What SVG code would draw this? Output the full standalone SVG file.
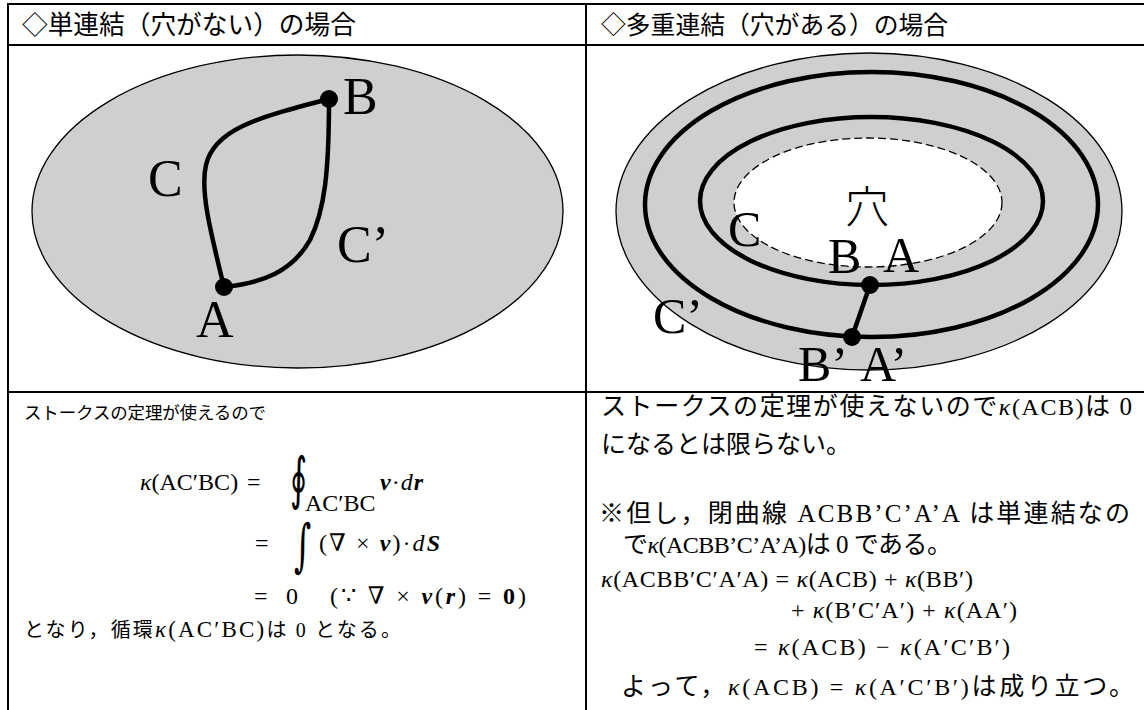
<svg xmlns="http://www.w3.org/2000/svg" width="1144" height="710" viewBox="0 0 1144 710">
<style>
.grid{stroke:#000;stroke-width:2;fill:none}
.region{fill:#d0cfd0;stroke:#000;stroke-width:1.3}
.thick{fill:none;stroke:#000;stroke-width:4.5}
.dot{fill:#000}
.lbl{font-family:"Liberation Serif","Times New Roman",serif;font-size:52px;fill:#000}
.lblR{font-family:"Liberation Serif","Times New Roman",serif;font-size:50px;fill:#000}
.hdr{font-family:"Noto Sans CJK JP",sans-serif;fill:#000}
.jp{font-family:"Liberation Serif","Noto Sans CJK JP",serif;fill:#000}
.m{font-family:"Liberation Serif","DejaVu Serif",serif;font-size:24px;fill:#000}
.it{font-style:italic}
.bi{font-style:italic;font-weight:bold}
.int{font-family:"DejaVu Serif",serif;fill:#000}
</style>

<g id="table">
  <line class="grid" x1="8" y1="4" x2="1144" y2="4"/>
  <line class="grid" x1="8" y1="45" x2="1144" y2="45"/>
  <line class="grid" x1="8" y1="392" x2="1144" y2="392"/>
  <line class="grid" x1="8" y1="3" x2="8" y2="710"/>
  <line class="grid" x1="586" y1="3" x2="586" y2="710"/>
</g>

<g id="header-left"><text class="hdr" x="22" y="34" font-size="25.7">◇単連結（穴がない）の場合</text></g>
<g id="header-right"><text class="hdr" x="601" y="34" font-size="24.8">◇多重連結（穴がある）の場合</text></g>

<g id="simply-connected">
  <ellipse class="region" cx="297.5" cy="211.5" rx="265.5" ry="156.5"/>
  <g id="connectors-left">
    <path class="thick" d="M224,287 C210,230 200,190 206,165 C214,130 255,118 329,99"/>
    <path class="thick" d="M224,287 C262,283 292,272 310,240 C325,210 329,170 329,99"/>
  </g>
  <g id="node-A"><circle class="dot" cx="224" cy="287" r="9"/><text class="lbl" x="196" y="337">A</text></g>
  <g id="node-B"><circle class="dot" cx="329" cy="99" r="9"/><text class="lbl" x="343" y="114">B</text></g>
  <text class="lbl" x="148" y="196">C</text>
  <text class="lbl" x="337" y="262">C’</text>
</g>

<g id="multiply-connected">
  <ellipse class="region" cx="869" cy="211.5" rx="253" ry="158.5"/>
  <ellipse fill="#fff" stroke="#000" stroke-width="1.3" stroke-dasharray="8,4" cx="868" cy="202.5" rx="134" ry="64.5"/>
  <g id="connectors-right">
    <ellipse class="thick" cx="871.5" cy="204.5" rx="226.5" ry="132.5"/>
    <ellipse class="thick" cx="871.5" cy="201" rx="171.5" ry="84"/>
    <line class="thick" x1="870" y1="285" x2="852" y2="337"/>
  </g>
  <text x="845" y="223" style="font-family:'Noto Sans CJK JP',sans-serif;font-size:44px;font-weight:300">穴</text>
  <g id="node-BA"><circle class="dot" cx="870" cy="285" r="9"/><text class="lblR" x="828" y="273">B</text><text class="lblR" x="883" y="272">A</text></g>
  <g id="node-BpAp"><circle class="dot" cx="852" cy="337" r="9"/><text class="lblR" x="798" y="381">B’</text><text class="lblR" x="860" y="381">A’</text></g>
  <text class="lblR" x="728" y="246">C</text>
  <text class="lblR" x="653" y="333">C’</text>
</g>

<g id="text-left">
  <text class="jp" font-size="17.5" x="24" y="419" textLength="242" lengthAdjust="spacing">ストークスの定理が使えるので</text>
  <text class="m" x="140" y="490" font-size="23"><tspan class="it">κ</tspan>(AC′BC)</text>
  <text class="m" x="247" y="490">=</text>
  <text class="int" font-size="44" transform="translate(290,498) scale(0.75,1.3)">∮</text>
  <text class="m" x="305" y="511" font-size="18">AC′BC</text>
  <text class="m" x="380" y="490" textLength="43" lengthAdjust="spacing"><tspan class="bi">v</tspan>·<tspan class="it">d</tspan><tspan class="bi">r</tspan></text>
  <text class="m" x="255" y="551">=</text>
  <text class="int" font-size="44" transform="translate(294,565) scale(0.75,1.3)">∫</text>
  <text class="m" x="319" y="551" textLength="121" lengthAdjust="spacing">(<tspan class="it">∇</tspan> × <tspan class="bi">v</tspan>)·<tspan class="it">d</tspan><tspan class="bi">S</tspan></text>
  <text class="m" x="254" y="604">=</text>
  <text class="m" x="286" y="604">0</text>
  <text class="m" x="330" y="604" textLength="196" lengthAdjust="spacing">(∵ <tspan class="it">∇</tspan> × <tspan class="bi">v</tspan>(<tspan class="bi">r</tspan>) = <tspan font-weight="bold">0</tspan>)</text>
  <text class="jp" font-size="20" x="24" y="637" textLength="377" lengthAdjust="spacing">となり，循環<tspan class="it" font-size="23">κ</tspan><tspan font-size="23">(AC′BC)</tspan>は 0 となる。</text>
</g>

<g id="text-right">
  <text class="jp" font-size="25" x="601" y="415" textLength="531" lengthAdjust="spacing">ストークスの定理が使えないので<tspan class="it" font-size="24">κ</tspan><tspan font-size="24">(ACB)</tspan>は 0</text>
  <text class="jp" font-size="25" x="601" y="453">になるとは限らない。</text>
  <text class="jp" font-size="25" x="599" y="522" textLength="531" lengthAdjust="spacing">※但し，閉曲線 ACBB’C’A’A は単連結なの</text>
  <text class="jp" font-size="25" x="623" y="553" textLength="329" lengthAdjust="spacing">で<tspan class="it" font-size="24">κ</tspan><tspan font-size="24">(ACBB’C’A’A)</tspan>は 0 である。</text>
  <text class="m" x="601" y="587" textLength="372" lengthAdjust="spacing"><tspan class="it">κ</tspan>(ACBB′C′A′A) = <tspan class="it">κ</tspan>(ACB) + <tspan class="it">κ</tspan>(BB′)</text>
  <text class="m" x="791" y="618" textLength="226" lengthAdjust="spacing">+ <tspan class="it">κ</tspan>(B′C′A′) + <tspan class="it">κ</tspan>(AA′)</text>
  <text class="m" x="754" y="655" textLength="256" lengthAdjust="spacing">= <tspan class="it">κ</tspan>(ACB) − <tspan class="it">κ</tspan>(A′C′B′)</text>
  <text class="jp" font-size="25" x="621" y="695" textLength="513" lengthAdjust="spacing">よって，<tspan class="it" font-size="24">κ</tspan><tspan font-size="24">(ACB) = </tspan><tspan class="it" font-size="24">κ</tspan><tspan font-size="24">(A′C′B′)</tspan>は成り立つ。</text>
</g>
</svg>
